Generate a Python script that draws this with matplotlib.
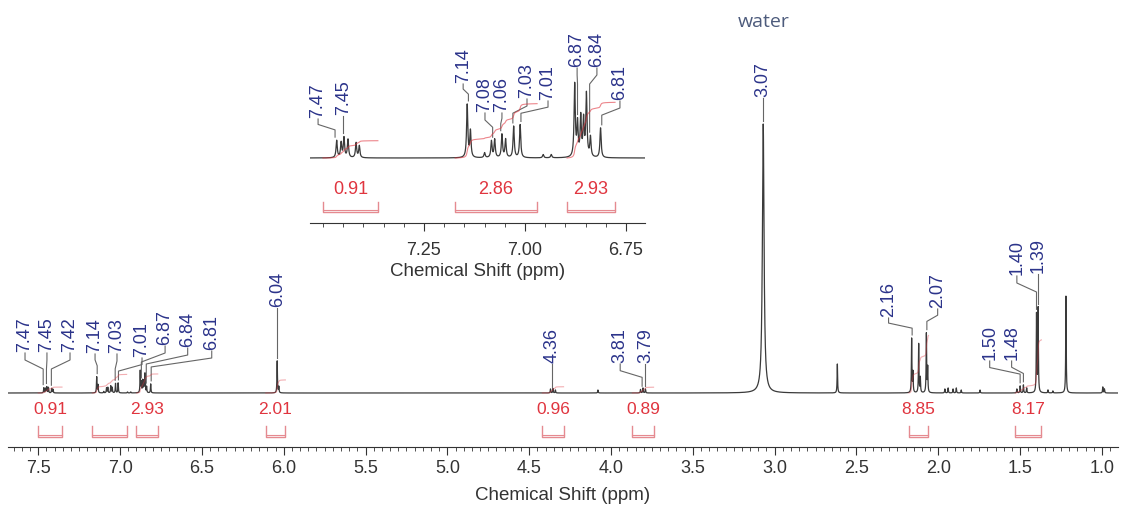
import numpy as np
import matplotlib.pyplot as plt
from matplotlib.ticker import MultipleLocator, FormatStrFormatter

plt.rcParams['font.family'] = ['Liberation Sans', 'DejaVu Sans']

# 1H peak list: shift (ppm) and height
peak_ppm = [7.466, 7.455, 7.448, 7.438, 7.418, 7.410,
            7.143, 7.135, 7.100, 7.083, 7.075, 7.057, 7.048, 7.028, 7.012,
            6.955, 6.935,
            6.877, 6.870, 6.862, 6.855, 6.848, 6.838, 6.813,
            6.040, 6.030,
            4.370, 4.355, 4.340, 4.080,
            3.820, 3.805, 3.790,
            3.070, 2.617,
            2.163, 2.155, 2.120, 2.110, 2.073, 2.065,
            1.960, 1.940, 1.910, 1.890, 1.860, 1.745,
            1.520, 1.500, 1.480, 1.460,
            1.400, 1.390, 1.330, 1.300,
            1.220, 0.995, 0.985]
peak_height = [5.2, 4.5, 6.0, 5.5, 4.5, 3.6,
               16, 8, 1.5, 5, 5.5, 7, 5.5, 9.5, 10,
               1, 1,
               22, 10, 12, 11, 19, 6, 9,
               32, 6,
               4, 4.5, 3, 3,
               3.5, 5, 4,
               269, 29,
               54, 20, 49, 15, 59, 25,
               4, 5, 4, 5, 3, 3,
               4, 7, 8, 5,
               78, 84, 3, 2,
               97, 6, 4]
broad_lines = {3.070: 0.006}   # ppm -> half width
line_hwhm = 0.0018

# integrals: region start/end (ppm) and value
int_start = [7.50, 7.17, 6.90, 6.11, 4.42, 3.87, 2.18, 1.53]
int_end = [7.355, 6.96, 6.77, 5.99, 4.29, 3.74, 2.06, 1.37]
int_value = [0.91, 2.86, 2.93, 2.01, 0.96, 0.89, 8.85, 8.17]
int_shown = [True, False, True, True, True, True, True, True]

# peak labels on the full spectrum: text, label x (ppm), text bottom (height)
main_lbl = ['7.47', '7.45', '7.42', '7.14', '7.03', '7.01', '6.87', '6.84', '6.81',
            '6.04', '4.36', '3.81', '3.79', '3.07', '2.16', '2.07',
            '1.50', '1.48', '1.40', '1.39']
main_lbl_x = [7.581, 7.447, 7.306, 7.153, 7.019, 6.866, 6.725, 6.587, 6.440,
              6.040, 4.360, 3.944, 3.790, 3.070, 2.304, 2.004,
              1.686, 1.552, 1.520, 1.390]
main_lbl_y = [42, 42, 42, 41, 41, 37, 49, 47, 44,
              87, 31, 31, 31, 297, 77, 86,
              34, 34, 119, 121]

# aromatic expansion
ins_lbl = ['7.47', '7.45', '7.14', '7.08', '7.06', '7.03', '7.01', '6.87', '6.84', '6.81']
ins_lbl_x = [7.512, 7.450, 7.153, 7.099, 7.057, 6.995, 6.943, 6.871, 6.822, 6.765]
ins_lbl_y = [41, 44, 76, 47, 47, 61, 59, 92, 92, 59]
ins_start = [7.50, 7.173, 6.896]
ins_end = [7.364, 6.97, 6.777]
ins_value = [0.91, 2.86, 2.93]
INSET_GAIN = 3.3

BLUE = '#2b338a'
RED = '#e0353f'
PINK = '#e58a90'
LINE = '#3a3a3a'

x = np.linspace(7.70, 0.89, 45000)
y = np.zeros_like(x)
for p, h in zip(peak_ppm, peak_height):
    w = broad_lines.get(p, line_hwhm)
    y += h / (1 + ((x - p) / w) ** 2)


def peak_top(ax_x, ax_y, ppm):
    m = np.abs(ax_x - ppm) < 0.004
    return ax_y[m].max()


def draw_labels(ax, xs, ys, labels, lx, ly, gap, fs):
    for t, l_x, l_y in zip(labels, lx, ly):
        ax.text(l_x, l_y, t, rotation=90, ha='center', va='bottom',
                color=BLUE, fontsize=fs)
        p = float(t)
        top = peak_top(xs, ys, p) + gap
        d = l_y - 2 - top
        if d <= 0:
            continue
        y1 = l_y - 2
        e1 = y1 - min(7, d * 0.3)
        e2 = e1 - min(9, d * 0.3)
        ax.plot([l_x, l_x, p, p], [y1, e1, e2, top], color='#666666', lw=0.8)


def draw_integrals(ax, xs, ys, starts, ends, values, shown, scale, lbl_y, top, bot, fs, alpha):
    for a, b, v, s in zip(starts, ends, values, shown):
        m = (xs <= a) & (xs >= b)
        cum = np.cumsum(ys[m])
        ax.plot(xs[m], cum / cum[-1] * v * scale, color=RED, lw=0.8, alpha=alpha)
        ax.plot([a, a, b, b], [top, bot, bot, top], color=PINK, lw=1.0)
        ax.plot([a, b], [bot + 2.5, bot + 2.5], color=PINK, lw=0.8)
        if s:
            ax.text((a + b) / 2, lbl_y, f'{v:.2f}', ha='center', va='center',
                    color=RED, fontsize=fs)


fig = plt.figure(figsize=(11.21, 5.06), dpi=100)

ax = fig.add_axes([8 / 1121, 58 / 506, 1110 / 1121, 448 / 506])
ax.plot(x, y, color=LINE, lw=0.9)
ax.set_xlim(7.685, 0.902)
ax.set_ylim(-54, 394)
for s in ['left', 'right', 'top']:
    ax.spines[s].set_visible(False)
ax.spines['bottom'].set_color('#333333')
ax.set_yticks([])
ax.xaxis.set_major_locator(MultipleLocator(0.5))
ax.xaxis.set_minor_locator(MultipleLocator(0.05))
ax.xaxis.set_major_formatter(FormatStrFormatter('%.1f'))
ax.tick_params(axis='x', which='major', length=6, labelsize=13, pad=3, colors='#333333')
ax.tick_params(axis='x', which='minor', length=3, colors='#333333')
ax.set_xlabel('Chemical Shift (ppm)', fontsize=13.5, labelpad=7, color='#333333')
draw_labels(ax, x, y, main_lbl, main_lbl_x, main_lbl_y, 3, 13)
draw_integrals(ax, x, y, int_start, int_end, int_value, int_shown,
               6.5, -16, -33, -44, 12.5, 0.4)
ax.text(3.07, 372, 'water', ha='center', va='center', color='#4d5b7c',
        fontsize=14, family=['Open Sans', 'DejaVu Sans'])

# aromatic region expansion
ins = fig.add_axes([310 / 1121, 282 / 506, 335 / 1121, 224 / 506])
ins.patch.set_alpha(0)
xi = x[(x <= 7.54) & (x >= 6.70)]
yi = y[(x <= 7.54) & (x >= 6.70)] * INSET_GAIN
ins.plot(xi, yi, color=LINE, lw=0.9)
ins.set_xlim(7.532, 6.703)
ins.set_ylim(-65, 159)
for s in ['left', 'right', 'top']:
    ins.spines[s].set_visible(False)
ins.spines['bottom'].set_color('#333333')
ins.set_yticks([])
ins.set_xticks([7.25, 7.00, 6.75])
ins.xaxis.set_minor_locator(MultipleLocator(0.05))
ins.xaxis.set_major_formatter(FormatStrFormatter('%.2f'))
ins.tick_params(axis='x', which='major', length=6, labelsize=13, pad=7, colors='#333333')
ins.tick_params(axis='x', which='minor', length=3, colors='#333333')
ins.set_xlabel('Chemical Shift (ppm)', fontsize=13.5, labelpad=3, color='#333333')
draw_labels(ins, xi, yi, ins_lbl, ins_lbl_x, ins_lbl_y, 3, 13)
draw_integrals(ins, xi, yi, ins_start, ins_end, ins_value, [True] * 3,
               19, -31, -44, -54, 13, 0.6)

fig.savefig('out.png', dpi=100)
